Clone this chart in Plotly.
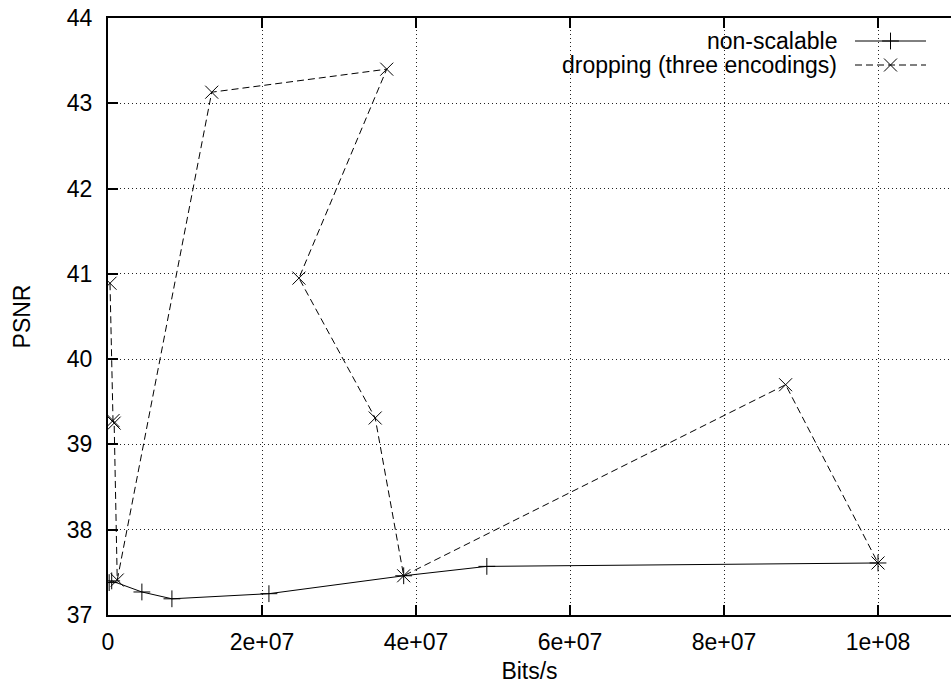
import plotly.graph_objects as go

# Non-scalable encoding: bit rate (bits/s) vs PSNR (dB)
rate_nonscalable = [1.5e5, 4.8e5, 4.4e6, 8.3e6, 2.09e7, 3.84e7, 4.92e7, 1.0e8]
psnr_nonscalable = [37.38, 37.40, 37.27, 37.19, 37.25, 37.46, 37.57, 37.61]

# Layer dropping over three encodings
rate_dropping = [2.6e5, 6.5e5, 8.0e5, 1.2e6, 1.347e7, 3.62e7, 2.48e7, 3.47e7, 3.84e7, 8.8e7, 1.0e8]
psnr_dropping = [40.89, 39.28, 39.25, 37.41, 43.13, 43.40, 40.95, 39.31, 37.46, 39.70, 37.61]

x_tickvals = [0, 2e7, 4e7, 6e7, 8e7, 1e8]
x_ticktext = ["0", "2e+07", "4e+07", "6e+07", "8e+07", "1e+08"]
y_tickvals = [37, 38, 39, 40, 41, 42, 43, 44]

series_names = ["non-scalable", "dropping (three encodings)"]

FONT = "Liberation Sans, Arial, Helvetica, sans-serif"
FS = 23

# plot frame in pixels
W, H = 951, 690
L, T, B = 108, 18, 75
X_MAX = 1.0948e8

fig = go.Figure()

fig.add_trace(go.Scatter(
    x=rate_nonscalable, y=psnr_nonscalable, mode="lines+markers",
    name=series_names[0], showlegend=False,
    line=dict(color="black", width=1),
    marker=dict(symbol="cross-thin", size=12, line=dict(color="black", width=1)),
))
fig.add_trace(go.Scatter(
    x=rate_dropping, y=psnr_dropping, mode="lines+markers",
    name=series_names[1], showlegend=False,
    line=dict(color="black", width=1, dash="7px,4px"),
    marker=dict(symbol="x-thin", size=13, line=dict(color="black", width=1)),
))

# key samples drawn on a small auxiliary subplot (unit coordinates)
plot_w = W - L
plot_h = H - T - B
key_x0 = (855 - L) / plot_w
key_x1 = (926 - L) / plot_w
text_x = (839 - L) / plot_w
row_y = [1 - (41 - T) / plot_h, 1 - (65 - T) / plot_h]

key_styles = [
    dict(line=dict(color="black", width=1),
         marker=dict(symbol="cross-thin", size=12, line=dict(color="black", width=1))),
    dict(line=dict(color="black", width=1, dash="7px,4px"),
         marker=dict(symbol="x-thin", size=13, line=dict(color="black", width=1))),
]
for ry, st in zip(row_y, key_styles):
    fig.add_trace(go.Scatter(
        x=[0, 1], y=[ry, ry], mode="lines", line=st["line"],
        xaxis="x2", yaxis="y3", showlegend=False, hoverinfo="skip"))
    fig.add_trace(go.Scatter(
        x=[0.5], y=[ry], mode="markers", marker=st["marker"],
        xaxis="x2", yaxis="y3", showlegend=False, hoverinfo="skip"))

for ry, name in zip(row_y, series_names):
    fig.add_annotation(
        x=text_x, y=ry, xref="paper", yref="paper", text=name,
        showarrow=False, xanchor="right", yanchor="middle",
        font=dict(family=FONT, size=FS, color="black"))

grid = dict(showgrid=True, gridcolor="#222", gridwidth=1, griddash="1px,3px")

fig.update_layout(
    width=W, height=H,
    margin=dict(l=L, r=0, t=T, b=B, autoexpand=False),
    paper_bgcolor="white", plot_bgcolor="rgba(0,0,0,0)",
    font=dict(family=FONT, size=FS, color="black"),
    showlegend=False,
    xaxis=dict(
        range=[0, X_MAX], tickvals=x_tickvals, ticktext=x_ticktext,
        ticks="inside", ticklen=10, tickwidth=2, tickcolor="black",
        showline=True, linewidth=2, linecolor="black", mirror="ticks",
        zeroline=False, ticklabelstandoff=5,
        title=dict(text="Bits/s", standoff=9, font=dict(size=FS)),
        **grid,
    ),
    yaxis=dict(
        range=[37, 44], tickvals=y_tickvals,
        ticks="inside", ticklen=10, tickwidth=2, tickcolor="black",
        showline=True, linewidth=2, linecolor="black", mirror=False,
        zeroline=False, ticklabelstandoff=9,
        title=dict(text="PSNR", standoff=30, font=dict(size=FS)),
        **grid,
    ),
    yaxis2=dict(
        overlaying="y", side="right", anchor="x", range=[37, 44],
        tickvals=y_tickvals, ticks="inside", ticklen=6, tickwidth=2,
        tickcolor="black", showticklabels=False, showgrid=False,
        showline=False, zeroline=False,
    ),
    xaxis2=dict(domain=[key_x0, key_x1], anchor="y3", range=[0, 1], visible=False),
    yaxis3=dict(domain=[0, 1], anchor="x2", range=[0, 1], visible=False),
)

fig.write_html("out.html")
